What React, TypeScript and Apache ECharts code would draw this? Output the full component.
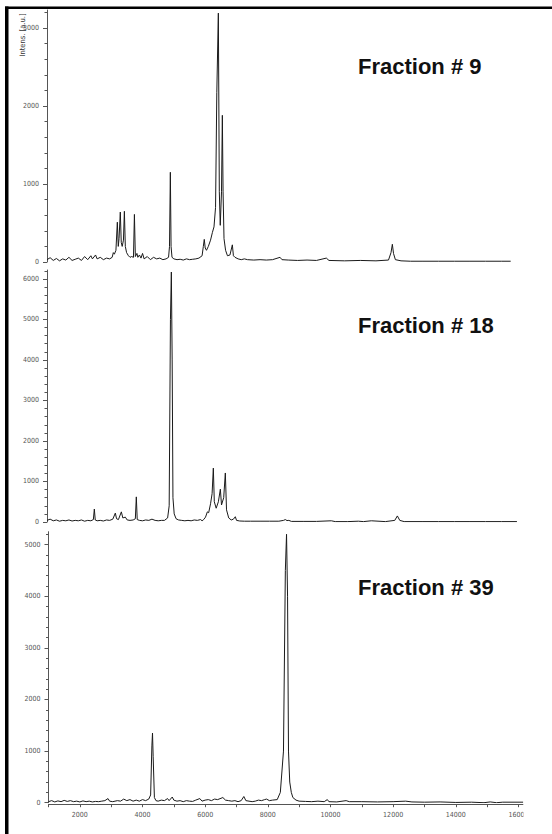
import React, { useEffect, useRef } from "react";
import * as echarts from "echarts";

// ---------- data (m/z, intensity) ----------
const fraction9: [number, number][] = [
  [1000, 30], [1100, 55], [1200, 20], [1300, 45], [1400, 15], [1500, 40], [1600, 25], [1700, 60],
  [1800, 20], [1900, 35], [2000, 50], [2100, 20], [2200, 70], [2300, 30], [2400, 80], [2450, 40],
  [2550, 90], [2600, 40], [2700, 60], [2800, 30], [2900, 50], [3000, 40], [3080, 60], [3117, 120],
  [3150, 100], [3200, 150], [3245, 510], [3275, 200], [3300, 300], [3340, 640], [3370, 250],
  [3400, 200], [3440, 280], [3470, 650], [3500, 200], [3540, 120], [3600, 80], [3650, 60],
  [3700, 70], [3760, 60], [3790, 610], [3820, 70], [3870, 110], [3900, 60], [3950, 90], [4000, 50],
  [4050, 110], [4100, 40], [4200, 70], [4300, 30], [4400, 60], [4500, 40], [4600, 50], [4700, 30],
  [4800, 40], [4880, 60], [4910, 200], [4937, 1150], [4960, 200], [4990, 60], [5050, 40],
  [5150, 30], [5250, 35], [5350, 25], [5450, 40], [5550, 30], [5650, 35], [5750, 40], [5850, 50],
  [5950, 80], [5990, 200], [6020, 290], [6050, 180], [6090, 150], [6150, 200], [6220, 280],
  [6280, 380], [6330, 450], [6380, 700], [6420, 2170], [6469, 3190], [6500, 900], [6530, 470],
  [6570, 900], [6597, 1880], [6620, 900], [6650, 300], [6700, 150], [6760, 80], [6840, 90],
  [6916, 220], [6950, 80], [7000, 60], [7100, 40], [7200, 30], [7300, 40], [7400, 30], [7600, 25],
  [7800, 30], [8000, 25], [8200, 30], [8438, 60], [8500, 30], [8700, 25], [9000, 20], [9300, 25],
  [9600, 20], [9916, 50], [10000, 20], [10500, 15], [11000, 20], [11500, 15], [11900, 25],
  [11980, 120], [12023, 227], [12060, 110], [12120, 30], [12300, 15], [12600, 10], [13000, 10],
  [13500, 10], [14000, 10], [14500, 10], [15000, 10], [15500, 10], [15800, 10],
];

const fraction18: [number, number][] = [
  [1000, 40], [1100, 70], [1200, 30], [1300, 50], [1400, 20], [1500, 40], [1600, 30], [1700, 50],
  [1800, 25], [1900, 40], [2000, 30], [2100, 50], [2200, 20], [2300, 40], [2400, 30], [2480, 60],
  [2511, 320], [2540, 50], [2600, 30], [2700, 40], [2800, 25], [2900, 50], [3000, 40], [3100, 70],
  [3181, 220], [3220, 80], [3280, 60], [3373, 250], [3420, 100], [3500, 120], [3560, 50],
  [3650, 40], [3750, 50], [3820, 80], [3851, 620], [3880, 60], [3950, 40], [4050, 30], [4150, 50],
  [4250, 40], [4350, 70], [4450, 40], [4550, 30], [4650, 40], [4750, 40], [4850, 100], [4900, 400],
  [4940, 5000], [4969, 6170], [4995, 4000], [5020, 600], [5060, 200], [5120, 80], [5200, 50],
  [5300, 40], [5400, 30], [5500, 40], [5600, 30], [5700, 50], [5800, 40], [5900, 60], [5950, 30],
  [6000, 60], [6060, 120], [6118, 250], [6160, 230], [6220, 450], [6270, 700], [6309, 1330],
  [6340, 500], [6400, 340], [6470, 500], [6533, 810], [6570, 420], [6640, 600], [6692, 1210],
  [6730, 300], [6800, 100], [6880, 50], [6950, 70], [7011, 130], [7050, 40], [7150, 25],
  [7300, 20], [7500, 20], [7800, 20], [8100, 20], [8400, 20], [8550, 40], [8607, 60], [8660, 35],
  [8720, 40], [8800, 15], [9200, 15], [9600, 15], [10076, 30], [10200, 10], [10600, 10],
  [10938, 20], [11100, 10], [11353, 30], [11800, 10], [12100, 40], [12183, 150], [12260, 40],
  [12400, 10], [13000, 10], [13500, 10], [14000, 10], [14500, 10], [15000, 10], [15500, 10],
  [16000, 10],
];

const fraction39: [number, number][] = [
  [1000, 20], [1100, 40], [1200, 15], [1300, 35], [1400, 20], [1500, 45], [1600, 25], [1700, 40],
  [1800, 20], [1900, 30], [2000, 15], [2100, 35], [2200, 20], [2300, 30], [2400, 15], [2500, 25],
  [2600, 20], [2700, 30], [2800, 40], [2900, 80], [2950, 30], [3050, 20], [3200, 40], [3300, 30],
  [3400, 70], [3500, 40], [3600, 60], [3700, 30], [3800, 50], [3900, 30], [4000, 60], [4100, 40],
  [4200, 70], [4260, 150], [4300, 1100], [4320, 1350], [4340, 900], [4380, 100], [4430, 40],
  [4500, 30], [4600, 50], [4700, 40], [4800, 80], [4850, 40], [4950, 110], [5000, 50], [5100, 30],
  [5200, 40], [5300, 20], [5400, 40], [5500, 30], [5600, 25], [5700, 50], [5830, 80], [5900, 30],
  [6000, 50], [6100, 60], [6200, 40], [6300, 70], [6400, 60], [6565, 100], [6650, 50], [6750, 40],
  [6850, 30], [6950, 40], [7050, 20], [7150, 40], [7235, 120], [7300, 40], [7400, 30], [7500, 20],
  [7600, 30], [7700, 50], [7800, 40], [7900, 60], [7960, 70], [8050, 40], [8150, 50], [8300, 60],
  [8400, 200], [8500, 1000], [8560, 4500], [8598, 5200], [8630, 4000], [8660, 1000], [8700, 400],
  [8750, 200], [8800, 100], [8900, 50], [9000, 30], [9200, 25], [9400, 20], [9600, 30], [9800, 20],
  [9900, 60], [9950, 20], [10200, 15], [10500, 40], [10600, 20], [11000, 20], [11500, 15],
  [12000, 20], [12400, 30], [12600, 15], [13000, 10], [13500, 15], [14000, 5], [14500, 10],
  [14900, 0], [15100, 15], [15300, 0], [15500, 10], [16150, 10],
];

const panelTitles = ["Fraction # 9", "Fraction # 18", "Fraction # 39"];
const yMax = [3230, 6220, 5250];
const yMajorTicks = [
  [0, 1000, 2000, 3000],
  [0, 1000, 2000, 3000, 4000, 5000, 6000],
  [0, 1000, 2000, 3000, 4000, 5000],
];
const yMinorStep = 200;
const xMin = 1000;
const xMax = [15800, 16000, 16150];
const xTickValues = [1000, 2000, 3000, 4000, 5000, 6000, 7000, 8000, 9000, 10000, 11000, 12000, 13000, 14000, 15000, 16000];
const xLabelValues = [2000, 4000, 6000, 8000, 10000, 12000, 14000, 16000];
const yAxisTitle = "Intens. [a.u.]";

const seriesData = [fraction9, fraction18, fraction39];

export default function App() {
  const ref = useRef<HTMLDivElement>(null);
  useEffect(() => {
    document.body.style.margin = "0";
    if (!ref.current) return;
    const chart = echarts.init(ref.current, null, { renderer: "svg" });

    const axisColor = "#555";
    const labelFont = "'Liberation Sans Narrow', 'DejaVu Sans Condensed', 'Liberation Sans', sans-serif";
    const pxPerUnit = 0.03133;
    const plain = (v: number) => String(v);

    const grids = [
      { left: 47, top: 10, width: (xMax[0] - xMin) * pxPerUnit, height: 252 },
      { left: 47, top: 270, width: (xMax[1] - xMin) * pxPerUnit, height: 252 },
      { left: 48.5, top: 531.7, width: (xMax[2] - xMin) * pxPerUnit, height: 271 },
    ].map((g) => ({ ...g, outerBoundsMode: "none", containLabel: false }));

    const xAxes: any[] = [0, 1, 2].map((i) => {
      const isBottom = i === 2;
      return {
        type: "value",
        gridIndex: i,
        min: xMin,
        max: xMax[i],
        show: isBottom,
        position: "bottom",
        offset: isBottom ? 1.5 : 0,
        axisLine: { show: isBottom, onZero: false, lineStyle: { color: axisColor, width: 1 } },
        axisTick: {
          show: isBottom,
          length: 3,
          customValues: xTickValues,
          lineStyle: { color: axisColor },
        },
        axisLabel: {
          show: isBottom,
          customValues: xLabelValues,
          formatter: plain,
          margin: 7,
          fontSize: 7,
          color: axisColor,
          fontFamily: labelFont,
        },
        splitLine: { show: false },
      };
    });

    const yAxes: any[] = [];
    [0, 1, 2].forEach((i) => {
      const minors: number[] = [];
      for (let v = 0; v <= yMax[i]; v += yMinorStep) minors.push(v);
      yAxes.push({
        type: "value",
        gridIndex: i,
        position: "left",
        min: 0,
        max: yMax[i],
        axisLine: { show: true, lineStyle: { color: axisColor, width: 1 } },
        axisTick: { show: true, length: 4, customValues: yMajorTicks[i], lineStyle: { color: axisColor } },
        axisLabel: {
          customValues: yMajorTicks[i],
          formatter: plain,
          margin: 8,
          fontSize: 7,
          color: axisColor,
          fontFamily: labelFont,
        },
        splitLine: { show: false },
      });
      yAxes.push({
        type: "value",
        gridIndex: i,
        position: "left",
        offset: 0,
        min: 0,
        max: yMax[i],
        axisLine: { show: false },
        axisTick: { show: true, length: 2.5, customValues: minors, lineStyle: { color: axisColor } },
        axisLabel: { show: false },
        splitLine: { show: false },
      });
    });

    const series: any[] = seriesData.map((d, i) => ({
      type: "line",
      xAxisIndex: i,
      yAxisIndex: i * 2,
      data: d,
      showSymbol: false,
      symbol: "none",
      smooth: false,
      lineStyle: { color: "#1a1a1a", width: 1 },
      emphasis: { disabled: true },
      silent: true,
    }));

    const titleY = [66, 325, 587];
    const graphic: any[] = [
      // frame
      { type: "rect", left: 5, top: 6.5, shape: { width: 547, height: 2.5 }, style: { fill: "#000" }, z: 100 },
      { type: "rect", left: 5, top: 6.5, shape: { width: 3.5, height: 828 }, style: { fill: "#000" }, z: 100 },
      // crop of the bottom panel on the right
      { type: "rect", left: 523.5, top: 790, shape: { width: 29, height: 44 }, style: { fill: "#fff" }, z: 100 },
      {
        type: "text",
        x: 22,
        y: 35,
        rotation: Math.PI / 2,
        style: {
          text: yAxisTitle,
          fontSize: 7.5,
          fill: "#333",
          align: "center",
          verticalAlign: "middle",
          fontFamily: labelFont,
        },
        z: 100,
      },
      ...panelTitles.map((t, i) => ({
        type: "text",
        x: 358,
        y: titleY[i],
        style: {
          text: t,
          fontSize: 22,
          fontWeight: "bold",
          fill: "#111",
          align: "left",
          verticalAlign: "middle",
          fontFamily: "'Liberation Sans', Arial, sans-serif",
        },
        z: 100,
      })),
    ];

    chart.setOption({
      animation: false,
      backgroundColor: "#fff",
      grid: grids,
      xAxis: xAxes,
      yAxis: yAxes,
      series,
      graphic,
    });
    return () => chart.dispose();
  }, []);
  return <div ref={ref} style={{ width: 552, height: 834 }} />;
}
